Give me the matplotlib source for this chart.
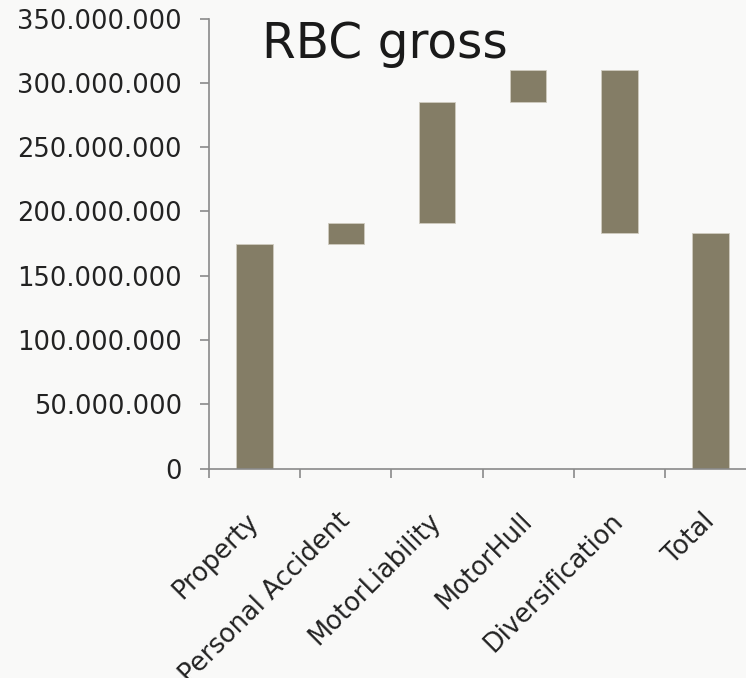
import numpy as np
import matplotlib
matplotlib.use("Agg")
import matplotlib.pyplot as plt
from matplotlib.ticker import FuncFormatter, MultipleLocator

# Waterfall data
categories = ["Property", "Personal Accident", "MotorLiability", "MotorHull",
              "Diversification", "Total"]
steps = [175e6, 16e6, 94e6, 25e6, -127e6]

# cumulative levels for the floating bars, then the closing total
levels = np.cumsum(steps)
starts = np.concatenate([[0], levels[:-1]])
total = levels[-1]

bottoms = list(np.minimum(starts, levels)) + [0]
heights = list(np.abs(steps)) + [total]

bar_color = "#847d66"
bg = "#f9f9f8"
axis_gray = "#8a8a8a"

fig = plt.figure(figsize=(7.46, 6.78), dpi=100, facecolor=bg)
ax = fig.add_axes([0.2802, 0.3087, 0.7335, 0.6639], facecolor=bg)

x = np.arange(len(categories))
ax.bar(x, heights, bottom=bottoms, width=0.4, color=bar_color,
       edgecolor="#cfcbbf", linewidth=0.6, zorder=2)

ax.set_xlim(-0.5, len(categories) - 0.5)
ax.set_ylim(0, 350e6)
ax.yaxis.set_major_locator(MultipleLocator(50e6))
ax.yaxis.set_major_formatter(
    FuncFormatter(lambda v, p: f"{v:,.0f}".replace(",", ".")))

# category boundaries carry the tick marks, labels sit at the centres
ax.set_xticks(np.arange(len(categories) + 1) - 0.5)
ax.set_xticklabels([])
ax.set_xticks(x, minor=True)
ax.set_xticklabels(categories, minor=True, rotation=45, ha="right",
                   va="center", rotation_mode="anchor")

for s in ["top", "right"]:
    ax.spines[s].set_visible(False)
for s in ["left", "bottom"]:
    ax.spines[s].set_color(axis_gray)
    ax.spines[s].set_linewidth(1.2)

ax.tick_params(axis="y", length=6.5, width=1.2, color=axis_gray,
               labelsize=18.5, labelcolor="#222222", pad=13)
ax.tick_params(axis="x", which="major", length=6.5, width=1.2,
               color=axis_gray)
ax.tick_params(axis="x", which="minor", length=0, labelsize=18.5,
               labelcolor="#222222", pad=35)

fig.text(262 / 746, 1 - 58 / 678, "RBC gross", fontsize=35,
         color="#1a1a1a", ha="left", va="baseline")

fig.savefig("out.png", dpi=100, facecolor=bg)
